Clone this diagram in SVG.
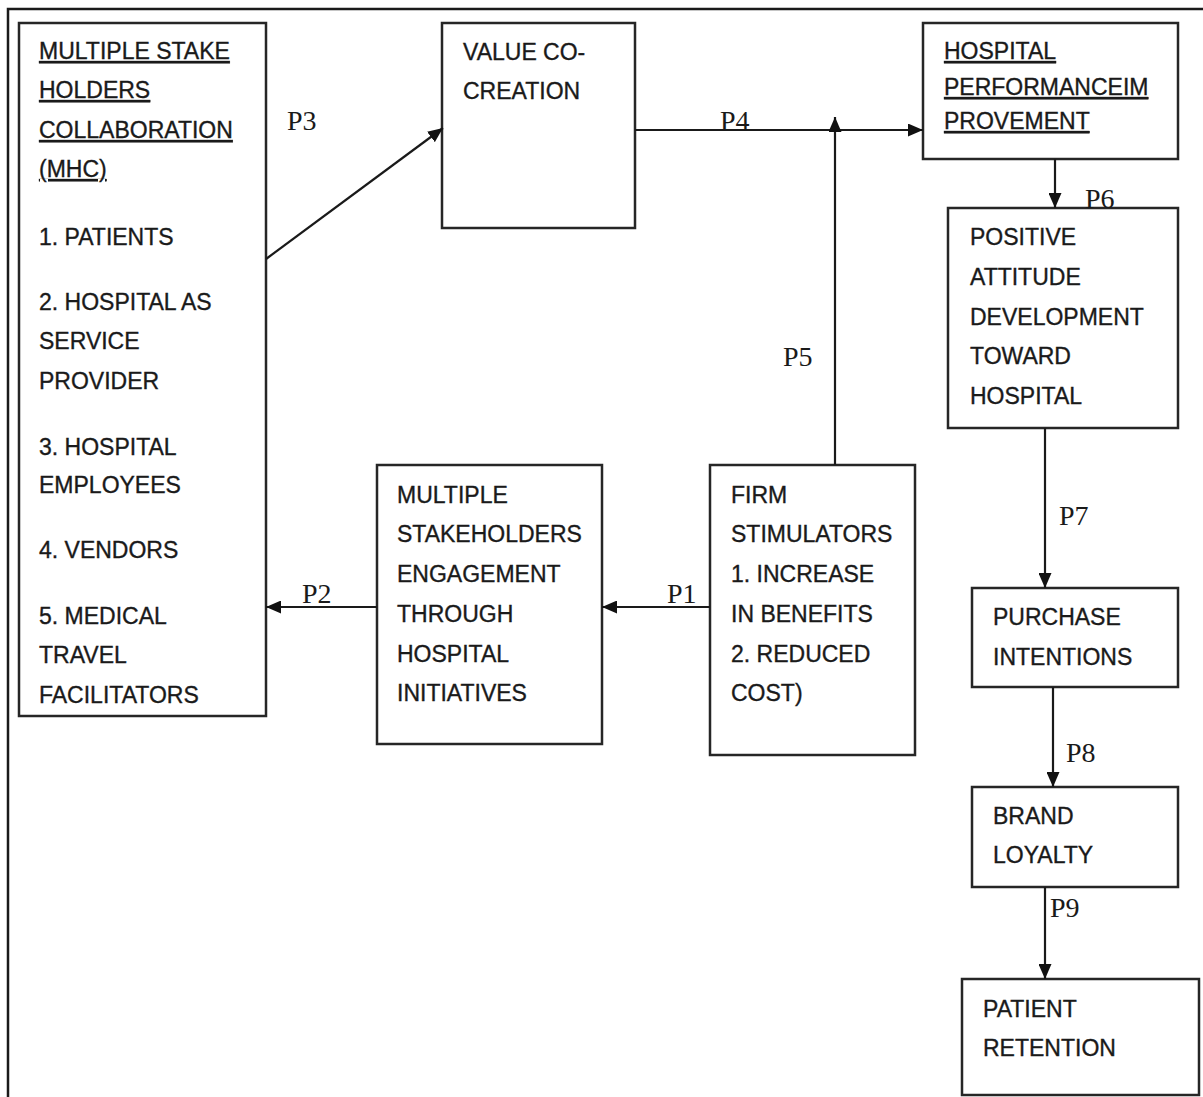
<svg xmlns="http://www.w3.org/2000/svg" width="1203" height="1097" viewBox="0 0 1203 1097">
<style>
.box{fill:#fff;stroke:#262626;stroke-width:2.5}
.t{font-family:"Liberation Sans",Arial,sans-serif;font-size:23px;fill:#1a1a1a;stroke:#1a1a1a;stroke-width:0.35}
.u{text-decoration:underline}
.lbl{font-family:"Liberation Serif","Times New Roman",serif;font-size:28px;fill:#1a1a1a}
.c{fill:none;stroke:#1a1a1a;stroke-width:2.2}
.frame{fill:none;stroke:#1a1a1a;stroke-width:2.5}
</style>
<defs>
<marker id="arr" markerUnits="userSpaceOnUse" markerWidth="15" markerHeight="13" refX="15" refY="6.5" orient="auto">
<path d="M0,0 L15,6.5 L0,13 z" fill="#111"/>
</marker>
</defs>
<rect width="1203" height="1097" fill="#fff"/>
<path class="frame" d="M8,1097 V9 H1203"/>

<g id="mhc">
<rect class="box" x="19" y="23" width="247" height="693"/>
<text class="t u" x="39" y="59">MULTIPLE STAKE</text>
<text class="t u" x="39" y="98">HOLDERS</text>
<text class="t u" x="39" y="138">COLLABORATION</text>
<text class="t u" x="39" y="177">(MHC)</text>
<text class="t" x="39" y="245">1. PATIENTS</text>
<text class="t" x="39" y="310">2. HOSPITAL AS</text>
<text class="t" x="39" y="349">SERVICE</text>
<text class="t" x="39" y="389">PROVIDER</text>
<text class="t" x="39" y="455">3. HOSPITAL</text>
<text class="t" x="39" y="493">EMPLOYEES</text>
<text class="t" x="39" y="558">4. VENDORS</text>
<text class="t" x="39" y="624">5. MEDICAL</text>
<text class="t" x="39" y="663">TRAVEL</text>
<text class="t" x="39" y="703">FACILITATORS</text>
</g>

<g id="value">
<rect class="box" x="442" y="23" width="193" height="205"/>
<text class="t" x="463" y="60">VALUE CO-</text>
<text class="t" x="463" y="99">CREATION</text>
</g>

<g id="hospital-performance">
<rect class="box" x="923" y="23" width="255" height="136"/>
<text class="t u" x="944" y="59">HOSPITAL</text>
<text class="t u" x="944" y="95">PERFORMANCEIM</text>
<text class="t u" x="944" y="129">PROVEMENT</text>
</g>

<g id="positive-attitude">
<rect class="box" x="948" y="208" width="230" height="220"/>
<text class="t" x="970" y="245">POSITIVE</text>
<text class="t" x="970" y="285">ATTITUDE</text>
<text class="t" x="970" y="325">DEVELOPMENT</text>
<text class="t" x="970" y="364">TOWARD</text>
<text class="t" x="970" y="404">HOSPITAL</text>
</g>

<g id="purchase">
<rect class="box" x="972" y="588" width="206" height="99"/>
<text class="t" x="993" y="625">PURCHASE</text>
<text class="t" x="993" y="665">INTENTIONS</text>
</g>

<g id="brand">
<rect class="box" x="972" y="787" width="206" height="100"/>
<text class="t" x="993" y="824">BRAND</text>
<text class="t" x="993" y="863">LOYALTY</text>
</g>

<g id="retention">
<rect class="box" x="962" y="979" width="237" height="116"/>
<text class="t" x="983" y="1017">PATIENT</text>
<text class="t" x="983" y="1056">RETENTION</text>
</g>

<g id="engagement">
<rect class="box" x="377" y="465" width="225" height="279"/>
<text class="t" x="397" y="503">MULTIPLE</text>
<text class="t" x="397" y="542">STAKEHOLDERS</text>
<text class="t" x="397" y="582">ENGAGEMENT</text>
<text class="t" x="397" y="622">THROUGH</text>
<text class="t" x="397" y="662">HOSPITAL</text>
<text class="t" x="397" y="701">INITIATIVES</text>
</g>

<g id="firm">
<rect class="box" x="710" y="465" width="205" height="290"/>
<text class="t" x="731" y="503">FIRM</text>
<text class="t" x="731" y="542">STIMULATORS</text>
<text class="t" x="731" y="582">1. INCREASE</text>
<text class="t" x="731" y="622">IN BENEFITS</text>
<text class="t" x="731" y="662">2. REDUCED</text>
<text class="t" x="731" y="701">COST)</text>
</g>

<g id="connectors">
<line class="c" x1="266" y1="259" x2="443" y2="128" marker-end="url(#arr)"/>
<line class="c" x1="635" y1="130" x2="923" y2="130" marker-end="url(#arr)"/>
<line class="c" x1="835" y1="465" x2="835" y2="117" marker-end="url(#arr)"/>
<line class="c" x1="1055" y1="159" x2="1055" y2="208" marker-end="url(#arr)"/>
<line class="c" x1="1045" y1="428" x2="1045" y2="588" marker-end="url(#arr)"/>
<line class="c" x1="1053" y1="687" x2="1053" y2="787" marker-end="url(#arr)"/>
<line class="c" x1="1045" y1="887" x2="1045" y2="979" marker-end="url(#arr)"/>
<line class="c" x1="710" y1="607" x2="602" y2="607" marker-end="url(#arr)"/>
<line class="c" x1="377" y1="607" x2="266" y2="607" marker-end="url(#arr)"/>
<text class="lbl" x="287" y="130">P3</text>
<text class="lbl" x="720" y="130">P4</text>
<text class="lbl" x="783" y="366">P5</text>
<text class="lbl" x="1085" y="208">P6</text>
<text class="lbl" x="1059" y="525">P7</text>
<text class="lbl" x="1066" y="762">P8</text>
<text class="lbl" x="1050" y="917">P9</text>
<text class="lbl" x="667" y="603">P1</text>
<text class="lbl" x="302" y="603">P2</text>
</g>
</svg>
